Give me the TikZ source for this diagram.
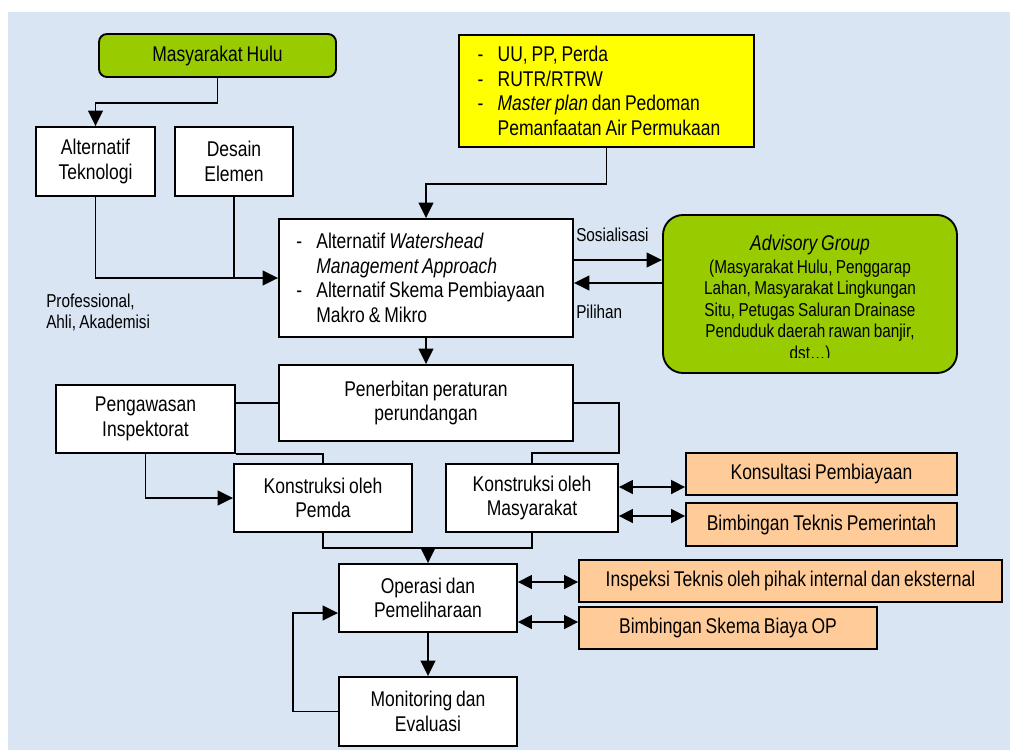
\documentclass[tikz,border=0pt]{standalone}
\usepackage{fontspec}
\setmainfont[FakeStretch=0.82, WordSpace=0.8]{Liberation Sans}
\usetikzlibrary{arrows,
                arrows.meta}

\definecolor{latar}{RGB}{217,229,243}
\definecolor{daun}{RGB}{153,204,0}
\definecolor{kuning}{RGB}{255,255,0}
\definecolor{persik}{RGB}{255,204,153}

\tikzset{
  kotak/.style={draw, line width=1.4pt, fill=white, align=center,
                font=\fontsize{16}{18.4}\selectfont, inner sep=2pt},
  hijau/.style={kotak, fill=daun, rounded corners=6pt},
  oranye/.style={kotak, fill=persik},
  keterangan/.style={inner sep=0pt, font=\fontsize{14}{16.1}\selectfont},
  garis/.style={line width=1.3pt},
  panah/.style={garis, -{Triangle[length=11.5pt,width=11pt]}},
  duapanah/.style={garis, {Triangle[length=10.5pt,width=10.5pt]}-{Triangle[length=10.5pt,width=10.5pt]}}
}

\begin{document}
\begin{tikzpicture}[x=0.75pt, y=-0.75pt]
       \useasboundingbox (0,0) rectangle (1010,753);
       \fill[latar] (8,12) rectangle (1010,750);

       % bagian atas
       \node at (217.5,55.5) [hijau, minimum width=177.75pt, minimum height=32.25pt] (hulu) {Masyarakat Hulu};
       \node at (95.5,161.5) [kotak, minimum width=89.25pt, minimum height=51.75pt] (alttek) {Alternatif\\Teknologi};
       \node at (234,161.5) [kotak, minimum width=88.5pt, minimum height=51.75pt] (desain) {Desain\\Elemen};
       \node at (606.5,91) [kotak, fill=kuning, align=flush left, text width=193.25pt, inner xsep=14pt, minimum height=84pt] (regulasi)
          {\makebox[15pt][l]{-}UU, PP, Perda\\
           \makebox[15pt][l]{-}RUTR/RTRW\\
           \makebox[15pt][l]{-}\textit{Master plan} dan Pedoman\\
           \hspace*{15pt}Pemanfaatan Air Permukaan};
       \node at (426,278) [kotak, align=flush left, text width=194.5pt, inner xsep=13pt, minimum height=88.5pt] (alternatif)
          {\makebox[15pt][l]{-}Alternatif \textit{Watershead}\\
           \hspace*{15pt}\textit{Management Approach}\\
           \makebox[15pt][l]{-}Alternatif Skema Pembiayaan\\
           \hspace*{15pt}Makro \& Mikro};
       \node at (810,294) [hijau, rounded corners=15pt, minimum width=220.5pt, minimum height=118.5pt] (advisory) {};
       \begin{scope}
         \clip (663,215) rectangle (957,357);
         \node at (810,235) [keterangan, anchor=north, align=center] (advtext)
            {{\fontsize{16}{16.1}\selectfont\itshape Advisory Group}\\[1pt]
             (Masyarakat Hulu, Penggarap\\
             Lahan, Masyarakat Lingkungan\\
             Situ, Petugas Saluran Drainase\\
             Penduduk daerah rawan banjir,\\
             dst\dots)};
       \end{scope}
       \node at (576,235) [keterangan, anchor=west] (sosialisasi) {Sosialisasi};
       \node at (576,312) [keterangan, anchor=west] (pilihan) {Pilihan};
       \node at (46,312.5) [keterangan, anchor=west, align=left] (ahli) {Professional,\\Ahli, Akademisi};

       % bagian tengah dan bawah
       \node at (426,403) [kotak, minimum width=220.5pt, minimum height=57pt] (penerbitan) {Penerbitan peraturan\\perundangan};
       \node at (145.5,419) [kotak, minimum width=134.25pt, minimum height=51pt] (pengawasan) {Pengawasan\\Inspektorat};
       \node at (323,498) [kotak, minimum width=133.5pt, minimum height=51pt] (pemda) {Konstruksi oleh\\Pemda};
       \node at (532,498) [kotak, minimum width=129pt, minimum height=51pt] (swadaya) {Konstruksi oleh\\Masyarakat};
       \node at (821.5,474) [oranye, minimum width=203.25pt, minimum height=31.5pt] (konsultasi) {Konsultasi Pembiayaan};
       \node at (821.5,524.5) [oranye, minimum width=203.25pt, minimum height=32.25pt] (bimtek) {Bimbingan Teknis Pemerintah};
       \node at (428,598) [kotak, minimum width=133.5pt, minimum height=51pt] (operasi) {Operasi dan\\Pemeliharaan};
       \node at (790.5,581) [oranye, minimum width=317.25pt, minimum height=31.5pt] (inspeksi) {Inspeksi Teknis oleh pihak internal dan eksternal};
       \node at (728,628) [oranye, minimum width=223.5pt, minimum height=31.5pt] (skema) {Bimbingan Skema Biaya OP};
       \node at (428,711.5) [kotak, minimum width=133.5pt, minimum height=51.75pt] (monitoring) {Monitoring dan\\Evaluasi};
       \coordinate (gabung) at (428,548);

       % penghubung
       \draw[panah] (hulu.south) -- ++(0,25) -| (alttek.north);
       \draw[panah] (alttek.south) |- (alternatif.west);
       \draw[garis] (desain.south) -- (desain.south |- alternatif.west);
       \draw[panah] (regulasi.south) -- ++(0,36) -| (alternatif.north);
       \draw[panah] (alternatif.east |- 0,260) -- (advisory.west |- 0,260);
       \draw[panah] (advisory.west |- 0,283) -- (alternatif.east |- 0,283);
       \draw[panah] (alternatif.south) -- (penerbitan.north);
       \draw[garis] (penerbitan.west) -- (penerbitan.west -| pengawasan.east);
       \draw[garis] (pengawasan.south east) -| (pemda.north);
       \draw[panah] (pengawasan.south) |- (pemda.west);
       \draw[garis] (penerbitan.east) -- (swadaya.east |- penerbitan.east) |- (swadaya.north |- 0,453) -- (swadaya.north);
       \draw[garis] (pemda.south) |- (gabung) -| (swadaya.south);
       \draw[panah] (gabung) -- (operasi.north);
       \draw[duapanah] (swadaya.east |- 0,487) -- (konsultasi.west |- 0,487);
       \draw[duapanah] (swadaya.east |- 0,516) -- (bimtek.west |- 0,516);
       \draw[duapanah] (operasi.east |- 0,582) -- (inspeksi.west |- 0,582);
       \draw[duapanah] (operasi.east |- 0,622) -- (skema.west |- 0,622);
       \draw[panah] (operasi.south) -- (monitoring.north);
       \draw[panah] (monitoring.west) -- ++(-45,0) |- (operasi.west |- 0,613);
\end{tikzpicture}
\end{document}
